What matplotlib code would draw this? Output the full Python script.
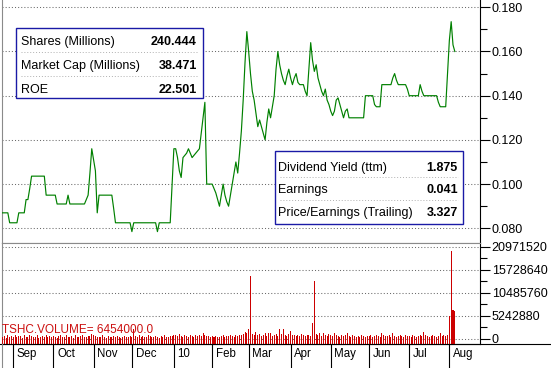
import matplotlib
matplotlib.use('Agg')
import matplotlib.pyplot as plt
import numpy as np
import pandas as pd
from matplotlib.patches import Rectangle
from matplotlib.lines import Line2D
from matplotlib.ticker import FormatStrFormatter, FuncFormatter

plt.rcParams['font.family'] = ['Liberation Sans', 'DejaVu Sans']

# trading days shown on the chart
start_day = '2009-08-24'
end_day = '2010-08-05'

# daily close, one block per month (Aug 09 ... Aug 10)
close = [
    0.087, 0.087, 0.087, 0.087, 0.0825, 0.0825,
    0.0825, 0.0825, 0.0825, 0.087, 0.087, 0.087, 0.087, 0.093, 0.093, 0.098, 0.1036,
    0.1036, 0.1036, 0.1036, 0.1036, 0.1036, 0.1036, 0.1036, 0.095, 0.095, 0.095, 0.095,
    0.095, 0.095, 0.091, 0.091, 0.091, 0.091, 0.091, 0.091, 0.095, 0.091, 0.091,
    0.091, 0.091, 0.091, 0.091, 0.091, 0.091, 0.091, 0.093, 0.095, 0.105, 0.116,
    0.111, 0.106, 0.087, 0.095, 0.095, 0.095, 0.095, 0.095, 0.095, 0.095, 0.095, 0.089,
    0.0825, 0.0825, 0.0825, 0.0825, 0.0825, 0.0825, 0.0825, 0.0825, 0.0825,
    0.0785, 0.0825, 0.0825, 0.0825, 0.0825, 0.0825, 0.0825, 0.0825, 0.0825, 0.0825,
    0.0825, 0.0825, 0.0825, 0.0825, 0.0785, 0.0825, 0.0825, 0.0825, 0.0825, 0.0825,
    0.0825, 0.0825, 0.099,
    0.116, 0.116, 0.112, 0.106, 0.103, 0.112, 0.113, 0.114, 0.116, 0.114, 0.112,
    0.113, 0.114, 0.115, 0.116, 0.123, 0.130, 0.137, 0.100, 0.100, 0.100,
    0.100, 0.098, 0.096, 0.093, 0.090, 0.095, 0.100, 0.095, 0.092, 0.090, 0.095,
    0.100, 0.105, 0.110, 0.105, 0.114, 0.124, 0.138, 0.155, 0.169,
    0.160, 0.150, 0.142, 0.138, 0.132, 0.126, 0.129, 0.126, 0.123, 0.120, 0.128,
    0.134, 0.130, 0.135, 0.140, 0.152, 0.160, 0.154, 0.150, 0.147, 0.145, 0.149, 0.152,
    0.148, 0.145, 0.148, 0.150, 0.146, 0.145, 0.145, 0.145, 0.142, 0.140, 0.152,
    0.164, 0.156, 0.151, 0.154, 0.148, 0.145, 0.142, 0.140, 0.143, 0.138, 0.136,
    0.133, 0.131, 0.133, 0.138, 0.139, 0.136, 0.133, 0.130, 0.133, 0.134, 0.130,
    0.130, 0.130, 0.130, 0.130, 0.130, 0.130, 0.130, 0.130, 0.140, 0.140,
    0.140, 0.140, 0.140, 0.136, 0.135, 0.135, 0.135, 0.145, 0.145, 0.145, 0.145,
    0.145, 0.145, 0.148, 0.150, 0.147, 0.145, 0.145, 0.145, 0.145, 0.145, 0.143,
    0.140, 0.140, 0.140, 0.140, 0.140, 0.140, 0.145, 0.142, 0.140, 0.140, 0.140,
    0.140, 0.140, 0.140, 0.140, 0.140, 0.137, 0.135, 0.135, 0.135, 0.135, 0.150,
    0.165, 0.1735, 0.163, 0.160,
]

# daily volume in thousands of shares
volume_k = [
    450, 700, 300, 850, 500, 650,
    400, 900, 350, 600, 750, 300, 950, 500, 400, 800, 650, 350, 550, 900, 300,
    450, 700, 400, 850, 350, 600, 500,
    750, 400, 300, 650, 900, 450, 350, 800, 550, 400, 700, 300, 950, 500, 400,
    650, 850, 350, 450, 700, 600, 1100,
    900, 700, 400, 550, 350, 800, 450, 300, 650, 500, 400, 750, 350, 600, 450,
    300, 550, 700, 400, 350, 650,
    500, 2300, 600, 450, 900, 350, 700, 500, 400, 800, 600, 350, 450, 750, 500,
    300, 650, 400, 850, 550, 450, 700, 600,
    800, 950, 600, 1100, 700, 500, 900, 650, 450, 800, 700, 550, 1000, 600, 850,
    700, 1400, 900, 650, 750, 500,
    600, 450, 700, 550, 400, 650, 800, 500, 700, 600, 900, 750, 550, 850, 700,
    1000, 900, 1200, 1600, 1400,
    2300, 14200, 1100, 900, 1600, 800, 1200, 600, 1000, 1400, 700, 1400, 1300, 600,
    800, 1100, 700, 2300, 1200, 2300, 900, 700, 1100,
    1800, 800, 1000, 600, 900, 700, 1100, 800, 600, 1000, 900, 700, 3700, 13100,
    1200, 1000, 1400, 700, 1300, 900, 600, 1100,
    800, 600, 1400, 900, 700, 500, 1000, 600, 800, 1300, 700, 500, 900, 600, 400,
    700, 500, 800, 600, 450, 700,
    600, 800, 500, 700, 900, 600, 500, 1300, 800, 700, 600, 900, 500, 1300, 700,
    500, 600, 800, 700, 500, 900, 600,
    700, 500, 800, 600, 500, 700, 900, 600, 1700, 1000, 700, 500, 600, 800, 600,
    500, 700, 1300, 600, 800, 700, 1000,
    5300, 20100, 6500, 6454,
]

month_labels = ['Sep', 'Oct', 'Nov', 'Dec', '10', 'Feb', 'Mar', 'Apr', 'May', 'Jun', 'Jul', 'Aug']

price_ticks = [0.080, 0.100, 0.120, 0.140, 0.160, 0.180]
volume_ticks = [0, 5242880, 10485760, 15728640, 20971520]

box1_rows = [('Shares (Millions)', '240.444'),
             ('Market Cap (Millions)', '38.471'),
             ('ROE', '22.501')]
box2_rows = [('Dividend Yield (ttm)', '1.875'),
             ('Earnings', '0.041'),
             ('Price/Earnings (Trailing)', '3.327')]

volume_title = 'TSHC.VOLUME= 6454000.0'

# ------------------------------------------------------------------
W, H = 551, 368
fig = plt.figure(figsize=(W / 100, H / 100), dpi=100)


def fx(px):
    return px / W


def fy(py):
    return 1 - py / H


dates = pd.bdate_range(start_day, end_day)
x = np.arange(len(dates))
volume = np.array(volume_k) * 1000.0

month_pos = [i for i in range(1, len(dates)) if dates[i].month != dates[i - 1].month]

ax = fig.add_axes([fx(2), fy(243), fx(480) - fx(2), fy(0) - fy(243)])
axv = fig.add_axes([fx(2), fy(344), fx(480) - fx(2), fy(243) - fy(344)])

grid_style = dict(linestyle=(0, (1, 2)), color='#6a6a6a', linewidth=0.75)

# price panel
ax.plot(x, close, color='#008000', lw=0.85, zorder=3)
ax.set_xlim(-0.2, 261.8)
ax.set_ylim(0.07335, 0.1833)
ax.set_yticks(price_ticks)
ax.set_yticks(np.arange(0.09, 0.18, 0.02), minor=True)
ax.yaxis.set_major_formatter(FormatStrFormatter('%.3f'))
ax.yaxis.tick_right()
ax.grid(axis='y', which='major', **grid_style)
ax.tick_params(axis='y', which='major', length=7.2, width=0.8, pad=1.2, labelsize=9)
ax.tick_params(axis='y', which='minor', length=4.8, width=0.8)
ax.tick_params(axis='x', bottom=False, labelbottom=False)
ax.spines['top'].set_visible(False)
ax.spines['left'].set_color('#8a8a8a')
ax.spines['bottom'].set_color('#8a8a8a')
ax.spines['right'].set_color('black')

# volume panel
vol_floor = -1136000
axv.bar(x, volume - vol_floor, bottom=vol_floor, width=0.55, color='#cc0000', zorder=3)
axv.set_xlim(-0.2, 261.8)
axv.set_ylim(vol_floor, 21810000)
axv.set_yticks(volume_ticks)
axv.set_yticks([v + 2621440 for v in volume_ticks[:-1]], minor=True)
axv.yaxis.set_major_formatter(FuncFormatter(lambda v, p: '%d' % v))
axv.yaxis.tick_right()
axv.grid(axis='y', which='major', **grid_style)
axv.tick_params(axis='y', which='major', length=7.2, width=0.8, pad=1.2, labelsize=9)
axv.tick_params(axis='y', which='minor', length=4.8, width=0.8)
axv.set_xticks(month_pos)
axv.tick_params(axis='x', length=18, width=0.8, direction='out', labelbottom=False)
axv.spines['top'].set_color('#8a8a8a')
axv.spines['left'].set_color('#8a8a8a')
axv.spines['right'].set_color('black')
axv.spines['bottom'].set_color('black')

for pos, lab in zip(month_pos, month_labels):
    axv.annotate(lab, xy=(pos, 0), xycoords=('data', 'axes fraction'),
                 xytext=(2.6, -9.2), textcoords='offset points',
                 ha='left', va='baseline', fontsize=8.3)

fig.text(fx(1.5), fy(333.3), volume_title, color='#cc1010', fontsize=8.5, va='baseline')

# frame lines outside the panels
fig.add_artist(Line2D([0, 1], [fy(344), fy(344)], color='black', lw=0.8))
fig.add_artist(Line2D([fx(2), fx(2)], [0, fy(344)], color='#8a8a8a', lw=0.8))


def info_box(x0, y0, x1, y1, rows, baselines, seps, lab_x, val_x):
    fig.add_artist(Rectangle((fx(x0), fy(y1)), fx(x1) - fx(x0), fy(y0) - fy(y1),
                             transform=fig.transFigure, facecolor='white',
                             edgecolor='#1a1aa6', lw=1.0, zorder=5))
    for sy in seps:
        fig.add_artist(Line2D([fx(x0 + 5), fx(x1 - 5)], [fy(sy), fy(sy)],
                              linestyle=(0, (1, 2)), color='#b0b0b0', lw=0.7, zorder=6))
    for (lab, val), by in zip(rows, baselines):
        fig.text(fx(lab_x), fy(by), lab, fontsize=9, va='baseline', zorder=7)
        fig.text(fx(val_x), fy(by), val, fontsize=9, va='baseline', ha='right',
                 weight='bold', zorder=7)


info_box(15.7, 28.3, 203.3, 97.7, box1_rows, [45, 69, 93.3], [52.3, 76], 21, 196.7)
info_box(275, 150.7, 463.3, 224, box2_rows, [171, 193.3, 216], [177, 200], 278.3, 457.7)

fig.savefig('out.png', dpi=100)
